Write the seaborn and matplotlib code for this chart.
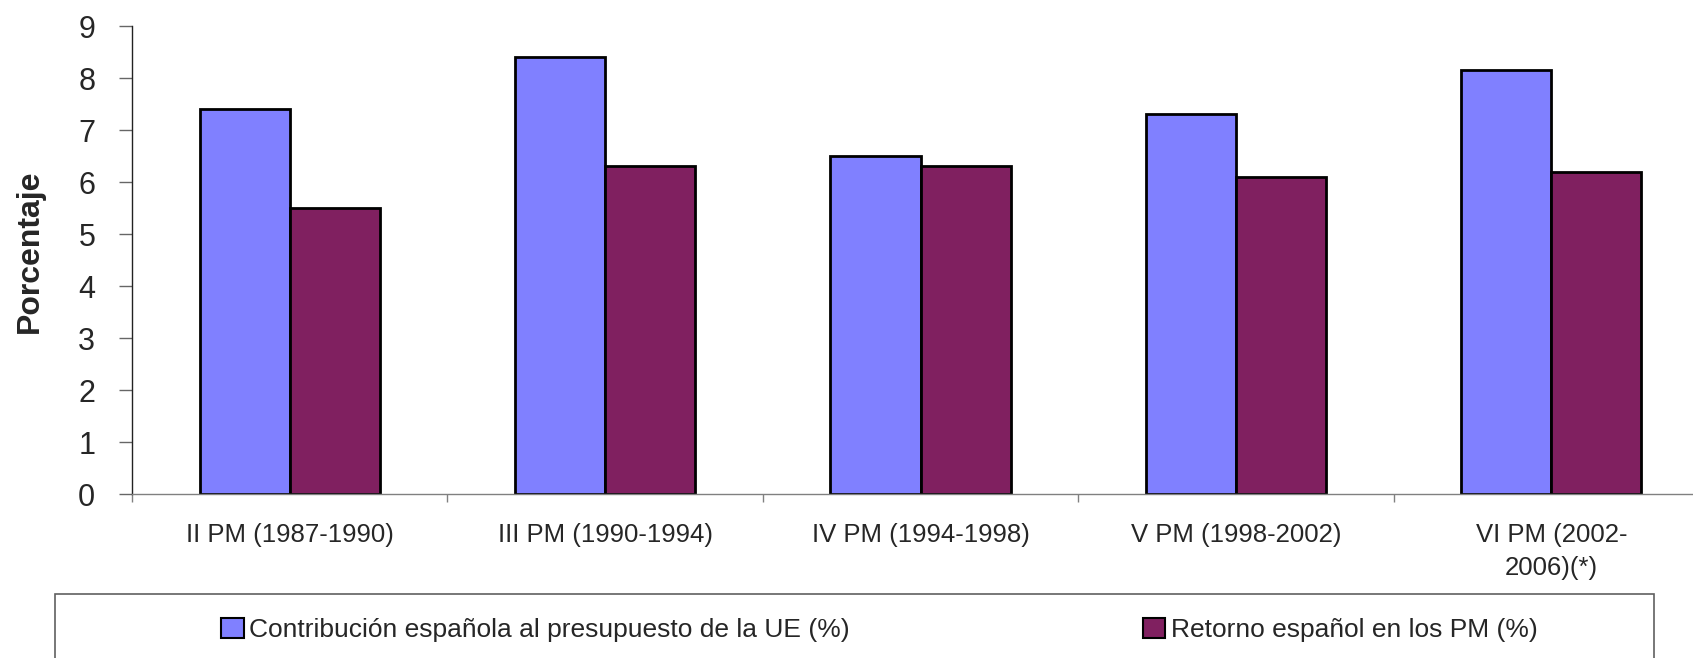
import numpy as np
import pandas as pd
import seaborn as sns
import matplotlib.pyplot as plt
from matplotlib.patches import Patch, Rectangle

periodos = ['II PM (1987-1990)', 'III PM (1990-1994)', 'IV PM (1994-1998)',
            'V PM (1998-2002)', 'VI PM (2002-\n2006)(*)']
contribucion = [7.4, 8.4, 6.5, 7.3, 8.15]
retorno = [5.5, 6.3, 6.3, 6.1, 6.2]
series = ['Contribución española al presupuesto de la UE (%)',
          'Retorno español en los PM (%)']
colores = ['#8080FF', '#802060']

df = pd.DataFrame({
    'periodo': periodos * 2,
    'valor': contribucion + retorno,
    'serie': [series[0]] * len(periodos) + [series[1]] * len(periodos),
})

sns.set_style('white')
plt.rcParams['font.family'] = ['Liberation Sans', 'DejaVu Sans']

fig = plt.figure(figsize=(16.93, 6.58), dpi=100)
ax = fig.add_axes([132 / 1693, 1 - 494 / 658, 1577 / 1693, 468 / 658])

sns.barplot(data=df, x='periodo', y='valor', hue='serie', palette=colores,
            saturation=1, width=0.5714, edgecolor='black', linewidth=2,
            legend=False, ax=ax)

ax.set_xlim(-0.5, 4.5)
ax.set_ylim(0, 9)
ax.set_yticks(range(10))
ax.tick_params(axis='y', left=True, labelsize=22, length=9.4, width=1,
               color='#666666', pad=17)

# ticks at group borders, labels at group centres
ax.set_xticks(np.arange(-0.5, 5, 1))
ax.set_xticklabels([])
ax.set_xticks(range(5), minor=True)
ax.set_xticklabels(periodos, minor=True)
ax.tick_params(axis='x', which='major', bottom=True, length=6, width=1,
               color='#808080', direction='out')
ax.tick_params(axis='x', which='minor', bottom=True, length=0, labelsize=18.5, pad=21)
for t in ax.get_xticklabels(minor=True):
    t.set_multialignment('center')
    t.set_linespacing(1.45)
    t.set_verticalalignment('top')

ax.set_xlabel('')
ax.set_ylabel('Porcentaje', fontsize=23, fontweight='bold')
ax.yaxis.label.set_va('center')
ax.yaxis.set_label_coords(-0.0647, 0.519)

sns.despine(ax=ax)
ax.spines['left'].set_color('#222222')
ax.spines['bottom'].set_color('#808080')
ax.spines['left'].set_linewidth(1)
ax.spines['bottom'].set_linewidth(1)

# legend box
fig.add_artist(Rectangle((55 / 1693, -0.05), (1654 - 55) / 1693, (1 - 594 / 658) + 0.05,
                         transform=fig.transFigure, fill=False,
                         edgecolor='#606060', linewidth=1.2))
centros = [535, 1340]
for lab, col, cx in zip(series, colores, centros):
    fig.legend(handles=[Patch(facecolor=col, edgecolor='black', linewidth=1.5)],
               labels=[lab], loc='center', bbox_to_anchor=(cx / 1693, 1 - 630 / 658),
               frameon=False, fontsize=19, handlelength=0.87, handleheight=0.8,
               handletextpad=0.2, borderpad=0)

fig.savefig('out.png', dpi=100)
